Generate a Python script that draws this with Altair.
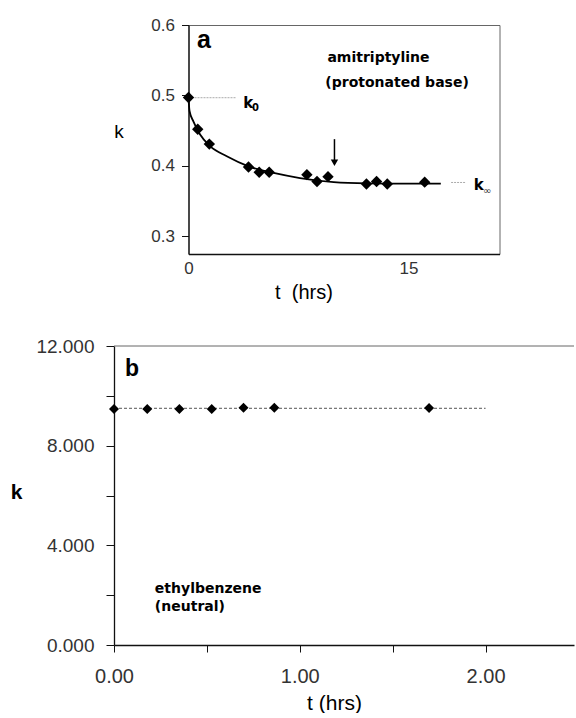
import altair as alt
import pandas as pd

# ---------------- Panel a: amitriptyline (protonated base) ----------------
a_t = [0.0, 0.63, 1.42, 4.09, 4.82, 5.50, 8.07, 8.76, 9.51, 12.13, 12.82, 13.55, 16.10]
a_k = [0.497, 0.452, 0.431, 0.3985, 0.391, 0.391, 0.3876, 0.378, 0.3848, 0.3743, 0.378, 0.3743, 0.377]
fit_t = [0.0, 0.07, 0.34, 0.79, 1.47, 2.61, 4.09, 5.8, 7.6, 9.9, 12.2, 14.5, 17.2]
fit_k = [0.497, 0.478, 0.463, 0.4445, 0.428, 0.4137, 0.3994, 0.390, 0.3828, 0.377, 0.3752, 0.3748, 0.3748]
k0_t = [0.0, 3.25]
k0_k = [0.4968, 0.4968]
kinf_t = [17.9, 18.9]
kinf_k = [0.3765, 0.3765]
arrow_t = [9.95]
arrow_top = [0.438]
arrow_head = [0.4045]
a_xticks = [0, 15]
a_yticks = [0.3, 0.4, 0.5, 0.6]

# ---------------- Panel b: ethylbenzene (neutral) ----------------
b_t = [0.0, 0.179, 0.352, 0.526, 0.697, 0.863, 1.696]
b_k = [9.47, 9.47, 9.47, 9.47, 9.52, 9.52, 9.51]
b_line_t = [0.0, 2.0]
b_line_k = [9.50, 9.50]
b_xticks = [0, 0.5, 1.0, 1.5, 2.0]
b_yticks = [0, 2, 4, 6, 8, 10, 12]

TICK_FONT = "Liberation Sans"
ANN_FONT = "DejaVu Sans"

xa = alt.Scale(domain=[0, 21.2], nice=False, zero=False)
ya = alt.Scale(domain=[0.275, 0.6], nice=False, zero=False)
xb = alt.Scale(domain=[0, 2.476], nice=False, zero=False)
yb = alt.Scale(domain=[0, 12], nice=False, zero=False)

# ---------- panel a ----------
pts_a = pd.DataFrame({"t": a_t, "k": a_k})
fit_a = pd.DataFrame({"t": fit_t, "k": fit_k})
k0_df = pd.DataFrame({"t": k0_t, "k": k0_k})
kinf_df = pd.DataFrame({"t": kinf_t, "k": kinf_k})
arrow_df = pd.DataFrame({"t": arrow_t, "k": arrow_top, "k2": arrow_head})

ax_a_x = alt.Axis(values=a_xticks, format="d", ticks=False, labelPadding=6,
                  labelFontSize=17, labelFont=TICK_FONT, labelColor="#333",
                  labelFlush=False, labelOverlap=False,
                  domainColor="#111", domainWidth=1.3,
                  title="t\u00a0\u00a0(hrs)", titleFont=TICK_FONT, titleFontSize=20,
                  titleFontWeight="normal", titleX=115, titleY=44,
                  titleAlign="center", titleBaseline="alphabetic")
ax_a_y = alt.Axis(values=a_yticks, format=".1f", tickSize=7, tickColor="#111",
                  labelPadding=7, labelFontSize=17, labelFont=TICK_FONT,
                  labelColor="#333", labelFlush=False, labelOverlap=False,
                  domainColor="#111", domainWidth=1.3,
                  title="k", titleFont=TICK_FONT, titleFontSize=19,
                  titleFontWeight="normal", titleAngle=0, titleX=-70, titleY=106,
                  titleAlign="center", titleBaseline="middle")

a_points = alt.Chart(pts_a).mark_point(shape="diamond", filled=True, color="black",
                                       size=130, opacity=1).encode(
    x=alt.X("t:Q", scale=xa, axis=ax_a_x),
    y=alt.Y("k:Q", scale=ya, axis=ax_a_y),
)
a_fit = alt.Chart(fit_a).mark_line(color="black", strokeWidth=1.8,
                                   interpolate="monotone").encode(
    x=alt.X("t:Q", scale=xa), y=alt.Y("k:Q", scale=ya))
a_k0 = alt.Chart(k0_df).mark_line(color="#aaa", strokeWidth=1,
                                  strokeDash=[2, 1]).encode(
    x=alt.X("t:Q", scale=xa), y=alt.Y("k:Q", scale=ya))
a_kinf = alt.Chart(kinf_df).mark_line(color="#aaa", strokeWidth=1,
                                      strokeDash=[2, 1]).encode(
    x=alt.X("t:Q", scale=xa), y=alt.Y("k:Q", scale=ya))
a_arrow = alt.Chart(arrow_df).mark_rule(color="black", strokeWidth=1.5).encode(
    x=alt.X("t:Q", scale=xa), y=alt.Y("k:Q", scale=ya), y2="k2:Q")
a_head = alt.Chart(arrow_df).mark_point(shape="triangle-down", filled=True,
                                        color="black", size=55, opacity=1).encode(
    x=alt.X("t:Q", scale=xa), y=alt.Y("k2:Q", scale=ya))

lab_a_big = pd.DataFrame({"t": [0.58], "k": [0.5674], "s": ["a"]})
lab_a_txt = pd.DataFrame({"t": [9.47, 9.33], "k": [0.553, 0.5177],
                          "s": ["amitriptyline", "(protonated base)"]})
lab_a_k = pd.DataFrame({"t": [3.73, 19.45], "k": [0.4818, 0.3654], "s": ["k", "k"]})
lab_a_sub0 = pd.DataFrame({"t": [4.33], "k": [0.478], "s": ["0"]})
lab_a_subinf = pd.DataFrame({"t": [20.07], "k": [0.3597], "s": ["\u221e"]})

def txt(df, xs, ys, **kw):
    return alt.Chart(df).mark_text(**kw).encode(
        x=alt.X("t:Q", scale=xs), y=alt.Y("k:Q", scale=ys), text="s:N")

a_texts = [
    txt(lab_a_big, xa, ya, font=TICK_FONT, fontSize=25, fontWeight="bold",
        align="left", baseline="alphabetic", color="black"),
    txt(lab_a_txt, xa, ya, font=ANN_FONT, fontSize=14, fontWeight="bold",
        align="left", baseline="middle", color="black"),
    txt(lab_a_k, xa, ya, font=ANN_FONT, fontSize=15, fontWeight="bold",
        align="left", baseline="alphabetic", color="black"),
    txt(lab_a_sub0, xa, ya, font=ANN_FONT, fontSize=10, fontWeight="bold",
        align="left", baseline="alphabetic", color="black"),
    txt(lab_a_subinf, xa, ya, font=ANN_FONT, fontSize=10,
        align="left", baseline="alphabetic", color="#333"),
]

panel_a = alt.layer(a_k0, a_kinf, a_fit, a_arrow, a_head, a_points, *a_texts).properties(
    width=311, height=229,
    view=alt.ViewBackground(stroke="#666", strokeWidth=1),
)

# ---------- panel b ----------
pts_b = pd.DataFrame({"t": b_t, "k": b_k})
line_b = pd.DataFrame({"t": b_line_t, "k": b_line_k})
top_b = pd.DataFrame({"t": [0.0], "t2": [2.476], "k": [12.0]})

ax_b_x = alt.Axis(values=b_xticks,
                  labelExpr="datum.value % 1 == 0 ? format(datum.value, '.2f') : ''",
                  tickSize=7, tickColor="#111", labelPadding=14,
                  labelFontSize=20, labelFont=TICK_FONT, labelColor="#333",
                  labelFlush=False, labelOverlap=False,
                  domainColor="#111", domainWidth=1.3,
                  title="t (hrs)", titleFont=TICK_FONT, titleFontSize=21,
                  titleFontWeight="normal", titleX=220, titleY=64,
                  titleAlign="center", titleBaseline="alphabetic")
ax_b_y = alt.Axis(values=b_yticks,
                  labelExpr="datum.value % 4 == 0 ? format(datum.value, '.3f') : ''",
                  tickSize=8, tickColor="#111", labelPadding=12,
                  labelFontSize=19, labelFont=TICK_FONT, labelColor="#333",
                  labelFlush=False, labelOverlap=False,
                  domainColor="#111", domainWidth=1.3,
                  title="k", titleFont=TICK_FONT, titleFontSize=21,
                  titleFontWeight="bold", titleAngle=0, titleX=-98, titleY=146,
                  titleAlign="center", titleBaseline="middle")

b_points = alt.Chart(pts_b).mark_point(shape="diamond", filled=True, color="black",
                                       size=100, opacity=1).encode(
    x=alt.X("t:Q", scale=xb, axis=ax_b_x),
    y=alt.Y("k:Q", scale=yb, axis=ax_b_y),
)
b_line = alt.Chart(line_b).mark_line(color="#555", strokeWidth=1,
                                     strokeDash=[3, 2]).encode(
    x=alt.X("t:Q", scale=xb), y=alt.Y("k:Q", scale=yb))
b_top = alt.Chart(top_b).mark_rule(color="#666", strokeWidth=1).encode(
    x=alt.X("t:Q", scale=xb), x2="t2:Q", y=alt.Y("k:Q", scale=yb))

lab_b_big = pd.DataFrame({"t": [0.059], "k": [10.80], "s": ["b"]})
lab_b_txt = pd.DataFrame({"t": [0.22, 0.22], "k": [2.245, 1.52],
                          "s": ["ethylbenzene", "(neutral)"]})
b_texts = [
    txt(lab_b_big, xb, yb, font=TICK_FONT, fontSize=23, fontWeight="bold",
        align="left", baseline="alphabetic", color="black"),
    txt(lab_b_txt, xb, yb, font=ANN_FONT, fontSize=14, fontWeight="bold",
        align="left", baseline="middle", color="black"),
]

panel_b = alt.layer(b_top, b_line, b_points, *b_texts).properties(
    width=460, height=299,
    view=alt.ViewBackground(strokeWidth=0),
)

chart = alt.vconcat(panel_a, panel_b, spacing=92, center=True, bounds="flush").properties(
    padding={"left": 10, "top": 15, "right": 0, "bottom": 0},
    background="white",
).configure_axis(grid=False).configure_view(strokeWidth=0)

chart.save("out.html", embed_options={"renderer": "svg", "actions": False})
